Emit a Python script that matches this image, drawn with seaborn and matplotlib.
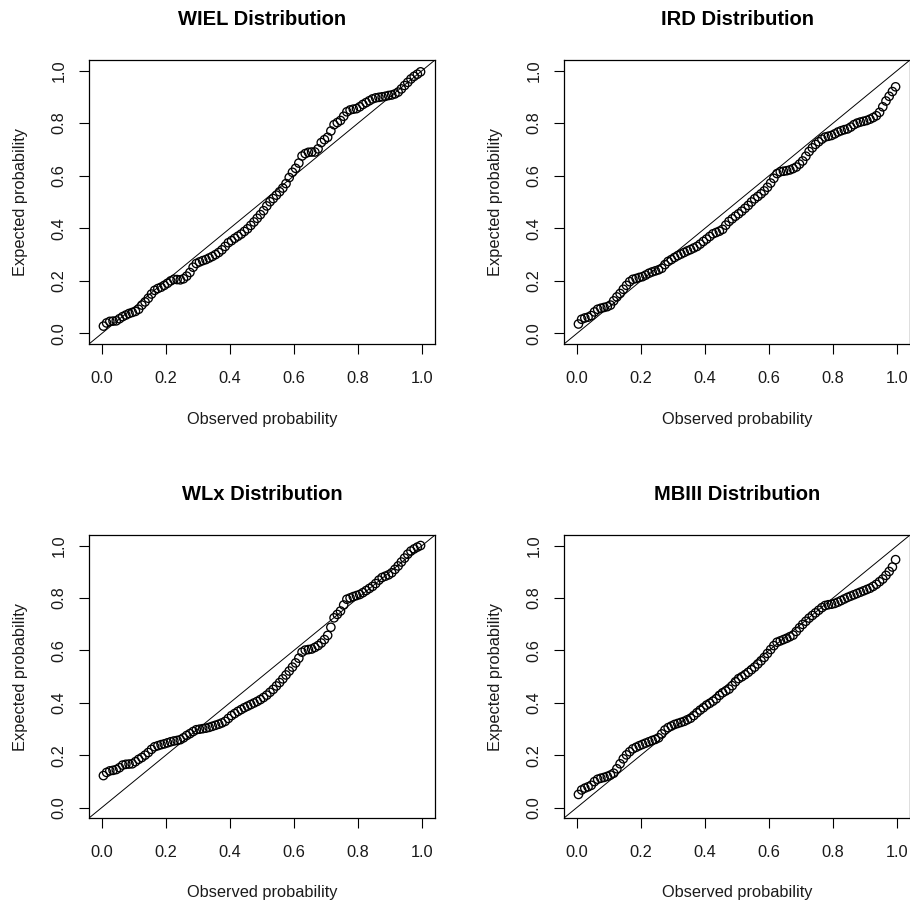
import matplotlib
matplotlib.use("Agg")
import matplotlib.pyplot as plt
import seaborn as sns
import pandas as pd

# P-P plots of four fitted distributions
titles = ["WIEL Distribution", "IRD Distribution", "WLx Distribution", "MBIII Distribution"]
tick_values = [0.0, 0.2, 0.4, 0.6, 0.8, 1.0]
tick_labels = ["0.0", "0.2", "0.4", "0.6", "0.8", "1.0"]

observed = [
    0.005, 0.015, 0.025, 0.035, 0.045, 0.055, 0.065, 0.075, 0.085, 0.095,
    0.105, 0.115, 0.125, 0.135, 0.145, 0.155, 0.165, 0.175, 0.185, 0.195,
    0.205, 0.215, 0.225, 0.235, 0.245, 0.255, 0.265, 0.275, 0.285, 0.295,
    0.305, 0.315, 0.325, 0.335, 0.345, 0.355, 0.365, 0.375, 0.385, 0.395,
    0.405, 0.415, 0.425, 0.435, 0.445, 0.455, 0.465, 0.475, 0.485, 0.495,
    0.505, 0.515, 0.525, 0.535, 0.545, 0.555, 0.565, 0.575, 0.585, 0.595,
    0.605, 0.615, 0.625, 0.635, 0.645, 0.655, 0.665, 0.675, 0.685, 0.695,
    0.705, 0.715, 0.725, 0.735, 0.745, 0.755, 0.765, 0.775, 0.785, 0.795,
    0.805, 0.815, 0.825, 0.835, 0.845, 0.855, 0.865, 0.875, 0.885, 0.895,
    0.905, 0.915, 0.925, 0.935, 0.945, 0.955, 0.965, 0.975, 0.985, 0.995,
]

wiel = [
    0.028, 0.040, 0.046, 0.047, 0.048, 0.056, 0.064, 0.070, 0.076, 0.080,
    0.084, 0.092, 0.108, 0.120, 0.134, 0.150, 0.164, 0.171, 0.176, 0.183,
    0.191, 0.200, 0.206, 0.205, 0.204, 0.208, 0.218, 0.232, 0.252, 0.266,
    0.272, 0.277, 0.281, 0.287, 0.293, 0.300, 0.308, 0.318, 0.331, 0.345,
    0.353, 0.362, 0.370, 0.378, 0.388, 0.398, 0.411, 0.424, 0.438, 0.452,
    0.467, 0.485, 0.501, 0.513, 0.526, 0.539, 0.553, 0.570, 0.593, 0.613,
    0.628, 0.648, 0.675, 0.684, 0.689, 0.690, 0.690, 0.702, 0.726, 0.737,
    0.746, 0.770, 0.794, 0.802, 0.810, 0.826, 0.843, 0.850, 0.853, 0.855,
    0.862, 0.871, 0.878, 0.885, 0.892, 0.896, 0.898, 0.900, 0.902, 0.905,
    0.907, 0.911, 0.918, 0.930, 0.943, 0.955, 0.968, 0.978, 0.986, 0.995,
]

ird = [
    0.036, 0.054, 0.059, 0.062, 0.068, 0.082, 0.092, 0.096, 0.099, 0.102,
    0.108, 0.124, 0.139, 0.152, 0.168, 0.183, 0.197, 0.206, 0.209, 0.213,
    0.216, 0.222, 0.229, 0.234, 0.238, 0.242, 0.248, 0.262, 0.274, 0.281,
    0.289, 0.296, 0.302, 0.308, 0.314, 0.319, 0.325, 0.331, 0.340, 0.350,
    0.359, 0.369, 0.379, 0.384, 0.389, 0.396, 0.412, 0.426, 0.436, 0.446,
    0.455, 0.465, 0.476, 0.487, 0.500, 0.512, 0.521, 0.531, 0.542, 0.556,
    0.572, 0.590, 0.608, 0.615, 0.617, 0.619, 0.622, 0.627, 0.633, 0.644,
    0.656, 0.674, 0.692, 0.706, 0.719, 0.729, 0.739, 0.747, 0.750, 0.753,
    0.759, 0.766, 0.771, 0.775, 0.778, 0.785, 0.794, 0.800, 0.804, 0.807,
    0.810, 0.815, 0.821, 0.828, 0.841, 0.862, 0.884, 0.902, 0.920, 0.938,
]

wlx = [
    0.122, 0.134, 0.140, 0.142, 0.145, 0.152, 0.162, 0.165, 0.166, 0.167,
    0.175, 0.184, 0.191, 0.200, 0.210, 0.222, 0.232, 0.236, 0.240, 0.243,
    0.247, 0.251, 0.254, 0.256, 0.259, 0.266, 0.275, 0.282, 0.290, 0.297,
    0.299, 0.301, 0.303, 0.306, 0.310, 0.314, 0.318, 0.323, 0.329, 0.340,
    0.351, 0.359, 0.367, 0.374, 0.381, 0.387, 0.393, 0.399, 0.405, 0.412,
    0.420, 0.429, 0.440, 0.451, 0.464, 0.477, 0.491, 0.506, 0.521, 0.536,
    0.552, 0.570, 0.593, 0.601, 0.603, 0.605, 0.611, 0.618, 0.628, 0.641,
    0.657, 0.688, 0.724, 0.737, 0.750, 0.773, 0.795, 0.800, 0.805, 0.809,
    0.813, 0.820, 0.828, 0.836, 0.844, 0.855, 0.868, 0.878, 0.883, 0.888,
    0.896, 0.909, 0.922, 0.937, 0.952, 0.967, 0.979, 0.987, 0.994, 1.000,
]

mbiii = [
    0.050, 0.067, 0.074, 0.079, 0.085, 0.099, 0.108, 0.112, 0.115, 0.119,
    0.124, 0.131, 0.148, 0.167, 0.186, 0.201, 0.213, 0.224, 0.230, 0.236,
    0.241, 0.246, 0.251, 0.256, 0.260, 0.266, 0.281, 0.296, 0.305, 0.311,
    0.317, 0.321, 0.325, 0.329, 0.335, 0.341, 0.351, 0.362, 0.372, 0.381,
    0.391, 0.398, 0.406, 0.415, 0.428, 0.438, 0.445, 0.452, 0.465, 0.480,
    0.492, 0.499, 0.507, 0.516, 0.526, 0.536, 0.548, 0.560, 0.573, 0.588,
    0.603, 0.618, 0.631, 0.636, 0.641, 0.646, 0.652, 0.658, 0.672, 0.686,
    0.699, 0.711, 0.723, 0.733, 0.743, 0.753, 0.763, 0.771, 0.774, 0.776,
    0.779, 0.784, 0.790, 0.796, 0.802, 0.807, 0.812, 0.817, 0.822, 0.827,
    0.832, 0.837, 0.844, 0.852, 0.862, 0.872, 0.886, 0.901, 0.918, 0.946,
]

expected = [wiel, ird, wlx, mbiii]

sns.set_style("white")
plt.rcParams["font.family"] = ["Liberation Sans", "DejaVu Sans"]

fig = plt.figure(figsize=(9.1, 9.05), dpi=100)
# axes boxes in figure fractions: left, bottom, width, height
boxes = [
    [0.0978, 0.6199, 0.3802, 0.3138],
    [0.6198, 0.6199, 0.3802, 0.3138],
    [0.0978, 0.0961, 0.3802, 0.3127],
    [0.6198, 0.0961, 0.3802, 0.3127],
]

for title, exp_vals, box in zip(titles, expected, boxes):
    ax = fig.add_axes(box)
    df = pd.DataFrame({"observed": observed, "expected": exp_vals})
    sns.scatterplot(data=df, x="observed", y="expected", ax=ax, marker="o",
                    s=36, color="black", facecolor="none", edgecolor="black",
                    linewidth=0.95, legend=False)
    ax.axline((0, 0), slope=1, color="black", linewidth=0.7)
    ax.set_xlim(-0.04, 1.04)
    ax.set_ylim(-0.04, 1.04)
    ax.set_xticks(tick_values)
    ax.set_xticklabels(tick_labels)
    ax.set_yticks(tick_values)
    ax.set_yticklabels(tick_labels, rotation=90, va="center")
    ax.tick_params(bottom=True, left=True, direction="out", length=7,
                   width=0.8, color="black", labelsize=11.8,
                   labelcolor="#1a1a1a")
    ax.tick_params(axis="x", pad=12.5)
    ax.tick_params(axis="y", pad=9)
    for sp in ax.spines.values():
        sp.set_color("black")
        sp.set_linewidth(0.9)
    ax.set_xlabel("Observed probability", fontsize=11.8, color="#1a1a1a")
    ax.set_ylabel("Expected probability", fontsize=11.8, color="#1a1a1a")
    ax.xaxis.set_label_coords(0.5, -0.238)
    ax.yaxis.set_label_coords(-0.175, 0.5)
    ax.set_title(title, fontsize=14.5, fontweight="bold", pad=25, color="black")

fig.savefig("out.png", dpi=100)
